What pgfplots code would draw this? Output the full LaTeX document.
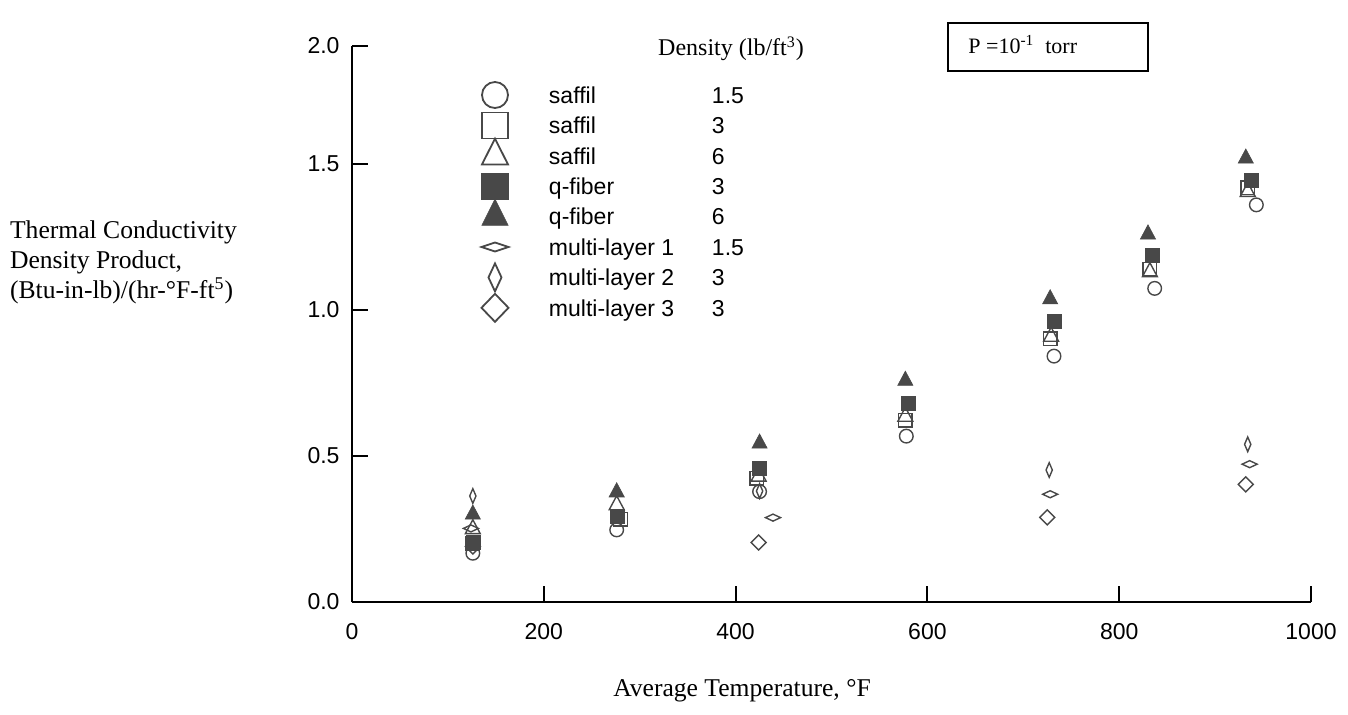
\documentclass[border=0pt]{standalone}
\usepackage{fontspec}
\setmainfont{Liberation Serif}
\newfontfamily\arial{Liberation Sans}
\usepackage{pgfplots}
\pgfplotsset{compat=1.18}
\definecolor{mk}{RGB}{72,72,72}
\begin{document}
\begin{tikzpicture}
\path[use as bounding box] (-176pt,-56pt) rectangle (498pt,301pt);
\begin{axis}[
  at={(0pt,0pt)}, anchor=south west,
  scale only axis, width=479.5pt, height=278pt,
  xmin=0, xmax=1000, ymin=0, ymax=1.904,
  axis x line*=bottom, axis y line*=left,
  xtick pos=bottom, ytick pos=left,
  axis line style={line width=1pt,-},
  xtick={0,200,400,600,800,1000}, xticklabels={0,200,400,600,800,1000},
  ytick={0,0.5,1,1.5,1.904}, yticklabels={0.0,0.5,1.0,1.5,2.0},
  tick align=inside, major tick length=8pt,
  tick style={line width=1pt, black},
  ticklabel style={font=\arial\fontsize{11.5}{13}\selectfont},
  xticklabel style={yshift=-7pt},
  yticklabel style={xshift=-2.7pt},
  clip=false,
  legend cell align=left,
  legend style={draw=none, fill=none, inner sep=0pt, outer sep=0pt,
    at={(0.1345,0.9392)}, anchor=north west, row sep=0pt, column sep=0pt,
    font=\arial\fontsize{11.5}{13}\selectfont,
    nodes={inner sep=0pt, text height=8.3pt, text depth=0pt}},
  legend image code/.code={\path[draw=none,fill=none] (0pt,-7.6pt) rectangle (34pt,7.6pt);
    \draw[#1,overlay] plot coordinates {(7pt,0pt)};},
]
% data
\addplot[forget plot, only marks, mk, mark=o, mark size=3.4pt, mark options={line width=0.7pt}]
  coordinates {(126,0.167) (276,0.247) (425,0.378) (578,0.568) (732,0.842) (837,1.074) (943,1.360)};
\addplot[forget plot, only marks, mk, mark=square, mark size=3.4pt, mark options={line width=0.7pt}]
  coordinates {(126,0.200) (280,0.284) (422,0.424) (577,0.623) (728,0.901) (832,1.139) (934,1.418)};
\addplot[forget plot, only marks, mk, mark=triangle, mark size=4.3pt, mark options={line width=0.7pt, yscale=1.08}]
  coordinates {(126,0.250) (276,0.332) (424,0.430) (577,0.635) (729,0.909) (832,1.130) (934,1.405)};
\addplot[forget plot, only marks, mk, mark=square*, mark size=3.5pt, mark options={line width=0.3pt, fill=mk}]
  coordinates {(126,0.204) (277,0.292) (425,0.458) (580,0.680) (732,0.961) (835,1.188) (938,1.445)};
\addplot[forget plot, only marks, mk, mark=triangle*, mark size=4.4pt, mark options={line width=0.3pt, fill=mk, yscale=1.08}]
  coordinates {(126,0.300) (276,0.376) (425,0.543) (577,0.758) (728,1.037) (830,1.259) (932,1.519)};
\addplot[forget plot, only marks, mk, mark=diamond, mark size=1.75pt, mark options={line width=0.7pt, xscale=2.86}]
  coordinates {(124,0.252) (439,0.289) (728,0.369) (936,0.472)};
\addplot[forget plot, only marks, mk, mark=diamond, mark size=3.67pt, mark options={line width=0.7pt, xscale=0.57}]
  coordinates {(126,0.363) (425,0.380) (727,0.452) (934,0.540)};
\addplot[forget plot, only marks, mk, mark=diamond, mark size=3.75pt, mark options={line width=0.7pt, xscale=1.333}]
  coordinates {(126,0.190) (424,0.204) (725,0.290) (932,0.403)};
% legend
\addlegendimage{only marks, mk, mark=o, mark size=6.5pt, mark options={line width=0.9pt}}
\addlegendentry{\makebox[81.5pt][l]{saffil}1.5}
\addlegendimage{only marks, mk, mark=square, mark size=6.5pt, mark options={line width=0.9pt}}
\addlegendentry{\makebox[81.5pt][l]{saffil}3}
\addlegendimage{only marks, mk, mark=triangle, mark size=7.5pt, mark options={line width=0.9pt, yscale=1.15}}
\addlegendentry{\makebox[81.5pt][l]{saffil}6}
\addlegendimage{only marks, mk, mark=square*, mark size=6.6pt, mark options={line width=0.3pt, fill=mk}}
\addlegendentry{\makebox[81.5pt][l]{q-fiber}3}
\addlegendimage{only marks, mk, mark=triangle*, mark size=7.6pt, mark options={line width=0.3pt, fill=mk, yscale=1.15}}
\addlegendentry{\makebox[81.5pt][l]{q-fiber}6}
\addlegendimage{only marks, mk, mark=diamond, mark size=2.25pt, mark options={line width=0.9pt, xscale=4.0}}
\addlegendentry{\makebox[81.5pt][l]{multi-layer 1}1.5}
\addlegendimage{only marks, mk, mark=diamond, mark size=7pt, mark options={line width=0.9pt, xscale=0.62}}
\addlegendentry{\makebox[81.5pt][l]{multi-layer 2}3}
\addlegendimage{only marks, mk, mark=diamond, mark size=7pt, mark options={line width=0.9pt, xscale=1.286}}
\addlegendentry{\makebox[81.5pt][l]{multi-layer 3}3}
\end{axis}
% annotations
\node[anchor=west, align=left, font=\fontsize{12.8}{15}\selectfont] at (-174.5pt,170pt)
  {Thermal Conductivity\\Density Product,\\(Btu-in-lb)/(hr-°F-ft\textsuperscript{5})};
\node[anchor=base, font=\fontsize{12.8}{15}\selectfont] at (195pt,-47pt) {Average Temperature, °F};
\node[anchor=base, font=\fontsize{12}{14}\selectfont] at (189.5pt,273pt) {Density (lb/ft\textsuperscript{3})};
\draw[line width=1pt] (298pt,265.5pt) rectangle (398pt,289.5pt);
\node[anchor=base west, inner sep=0pt, font=\fontsize{11}{13}\selectfont] at (308pt,274.5pt) {P =10\textsuperscript{-1}~~torr};
\end{tikzpicture}
\end{document}
